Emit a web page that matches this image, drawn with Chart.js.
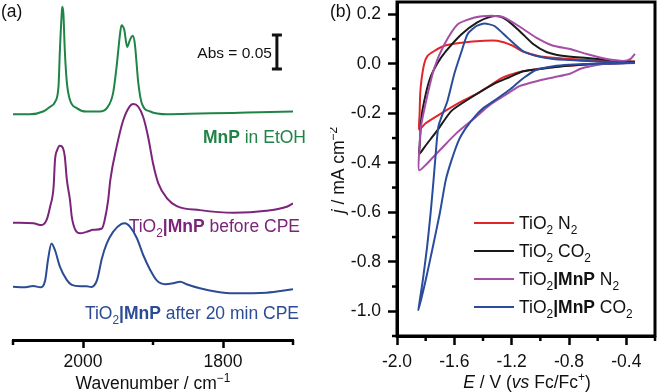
<!DOCTYPE html>
<html>
<head>
<meta charset="utf-8">
<script src="https://cdn.jsdelivr.net/npm/chart.js@4"></script>
<style>
  body { margin: 0; background: #fff; width: 658px; height: 392px; position: relative; overflow: hidden; }
  canvas { position: absolute; top: 0; }
  #ir { left: 0; }
  #cv { left: 330px; }
</style>
</head>
<body>
<canvas id="ir" width="330" height="392"></canvas>
<canvas id="cv" width="328" height="392"></canvas>
<script>
const FONT = "'Liberation Sans', Arial, sans-serif";

// (a) IR spectra: [wavenumber / cm-1, stacked absorbance]
const mnpEtoh = [[2100,0.332],[2076,0.332],[2057,0.336],[2047,0.343],[2040,0.350],[2035,0.373],[2033,0.426],
  [2030.4,0.480],[2029.6,0.490],[2028,0.480],[2026,0.426],[2023,0.378],[2018.6,0.353],[2009,0.341],[1995,0.336],
  [1976,0.336],[1966,0.341],[1957,0.363],[1952,0.402],[1947,0.451],[1945,0.463],[1941,0.456],[1937,0.431],
  [1933,0.441],[1929,0.4475],[1926,0.436],[1921,0.378],[1916,0.348],[1904,0.336],[1880,0.332],[1833,0.333],
  [1786,0.334],[1747,0.335],[1700,0.336]];
const beforeCpe = [[2100,0.1725],[2071,0.1716],[2059,0.169],[2052,0.1765],[2047,0.196],[2042,0.2254],[2040,0.2647],
  [2037,0.279],[2033,0.2857],[2028.6,0.282],[2026,0.2696],[2023,0.235],[2018.6,0.206],[2016,0.181],[2011,0.162],
  [2004,0.157],[1995,0.159],[1985,0.162],[1973,0.164],[1969,0.1765],[1964,0.206],[1961,0.235],[1952,0.284],
  [1942.4,0.3235],[1933,0.344],[1928,0.347],[1921,0.343],[1914,0.328],[1907,0.299],[1900,0.260],[1892.4,0.2304],
  [1880,0.2084],[1866,0.197],[1833,0.191],[1785,0.187],[1738,0.190],[1709,0.196],[1700,0.201]];
const afterCpe = [[2100,0.0784],[2085,0.0775],[2071,0.0794],[2061,0.0775],[2054,0.088],[2050,0.118],[2045,0.142],
  [2040,0.132],[2033,0.108],[2023,0.088],[2016,0.081],[2004,0.079],[1995,0.079],[1988,0.078],[1980,0.088],
  [1973,0.120],[1966,0.142],[1957,0.159],[1945,0.1706],[1940,0.1716],[1933,0.1666],[1923,0.1496],[1914,0.125],
  [1904,0.103],[1895,0.088],[1883,0.082],[1871,0.0834],[1861,0.0857],[1852,0.082],[1833,0.076],[1809,0.071],
  [1785,0.0687],[1738,0.0696],[1700,0.0746]];
const irLabels = ['MnP in EtOH', 'TiO2|MnP before CPE', 'TiO2|MnP after 20 min CPE'];
const irColors = ['#1f8446', '#7b2479', '#2b4b94'];
const irTicks = [2000, 1800];
const absBar = { x: 1723, base: 0.3985, size: 0.05 };

// (b) cyclic voltammograms: [E / V vs Fc/Fc+, j / mA cm-2]
const tio2N2 = [[-0.34,0.006],[-0.5,0.002],[-0.65,-0.002],[-0.8,-0.008],[-0.956,-0.016],[-1.12,-0.03],
  [-1.263,-0.056],[-1.425,-0.115],[-1.543,-0.15],[-1.705,-0.205],[-1.80,-0.24],[-1.845,-0.265],
  [-1.842,-0.2],[-1.838,-0.12],[-1.828,-0.06],[-1.81,0.0],[-1.787,0.032],[-1.74,0.052],[-1.67,0.073],
  [-1.55,0.085],[-1.39,0.093],[-1.30,0.093],[-1.2,0.075],[-1.12,0.05],[-1.0,0.03],[-0.85,0.022],
  [-0.675,0.016],[-0.5,0.012],[-0.34,0.01]];
const tio2CO2 = [[-0.34,0.005],[-0.6,0.0],[-0.85,-0.01],[-0.96,-0.018],[-1.12,-0.03],[-1.22,-0.055],
  [-1.32,-0.08],[-1.48,-0.135],[-1.62,-0.19],[-1.72,-0.27],[-1.80,-0.33],[-1.845,-0.365],
  [-1.842,-0.33],[-1.83,-0.22],[-1.81,-0.15],[-1.77,-0.06],[-1.72,0.0],[-1.66,0.05],[-1.55,0.12],
  [-1.44,0.168],[-1.35,0.19],[-1.29,0.192],[-1.235,0.178],[-1.145,0.133],[-1.05,0.08],[-0.957,0.048],
  [-0.85,0.033],[-0.675,0.024],[-0.445,0.012],[-0.34,0.008]];
const mnpN2 = [[-0.34,0.004],[-0.54,0.0],[-0.65,-0.01],[-0.72,-0.02],[-0.794,-0.04],[-0.91,-0.055],
  [-1.026,-0.07],[-1.145,-0.09],[-1.215,-0.115],[-1.35,-0.165],[-1.46,-0.22],[-1.585,-0.28],[-1.72,-0.36],
  [-1.845,-0.43],[-1.842,-0.33],[-1.834,-0.257],[-1.786,-0.122],[-1.739,-0.015],[-1.669,0.079],
  [-1.576,0.16],[-1.459,0.187],[-1.343,0.194],[-1.25,0.187],[-1.133,0.146],[-1.026,0.105],[-0.91,0.073],
  [-0.794,0.06],[-0.677,0.04],[-0.537,0.02],[-0.42,0.012],[-0.37,0.02],[-0.34,0.04]];
const mnpCO2 = [[-0.34,0.003],[-0.6,0.0],[-0.8,-0.004],[-0.91,-0.01],[-1.03,-0.025],[-1.1,-0.05],
  [-1.145,-0.07],[-1.215,-0.105],[-1.3,-0.14],[-1.4,-0.18],[-1.46,-0.215],[-1.52,-0.26],[-1.57,-0.31],
  [-1.62,-0.39],[-1.66,-0.47],[-1.70,-0.6],[-1.75,-0.74],[-1.80,-0.875],[-1.85,-0.995],
  [-1.82,-0.875],[-1.79,-0.74],[-1.765,-0.6],[-1.745,-0.47],[-1.728,-0.35],[-1.71,-0.25],
  [-1.648,-0.15],[-1.6,-0.04],[-1.55,0.05],[-1.508,0.12],[-1.446,0.153],[-1.39,0.163],[-1.32,0.153],
  [-1.228,0.105],[-1.123,0.052],[-1.026,0.032],[-0.91,0.02],[-0.675,0.012],[-0.34,0.004]];
const cvLabels = ['TiO2 N2', 'TiO2 CO2', 'TiO2|MnP N2', 'TiO2|MnP CO2'];
const cvColors = ['#e2252b', '#1a1a1a', '#a54ea6', '#2a4c9c'];

// draw text made of styled pieces: [text, style] with style '', 'b', 'i', 'sub', 'sup'
function rich(ctx, parts, x, y, size, color, align) {
  const fontFor = st => {
    const s = (st === 'sub' || st === 'sup') ? size * 0.68 : size;
    return (st === 'i' ? 'italic ' : '') + (st === 'b' ? 'bold ' : '') + s + 'px ' + FONT;
  };
  let total = 0;
  const widths = parts.map(([t, st]) => {
    ctx.font = fontFor(st);
    const w = ctx.measureText(t).width;
    total += w;
    return w;
  });
  let cx = align === 'right' ? x - total : align === 'center' ? x - total / 2 : x;
  ctx.fillStyle = color;
  ctx.textAlign = 'left';
  ctx.textBaseline = 'alphabetic';
  parts.forEach(([t, st], i) => {
    ctx.font = fontFor(st);
    const dy = st === 'sub' ? size * 0.28 : st === 'sup' ? -size * 0.42 : 0;
    ctx.fillText(t, cx, y + dy);
    cx += widths[i];
  });
}

function minorTicks(ctx, scale, isMinor, len, vertical) {
  ctx.save();
  ctx.strokeStyle = '#000';
  ctx.lineWidth = 2.5;
  scale.ticks.forEach(t => {
    if (!isMinor(t.value)) return;
    const p = scale.getPixelForValue(t.value);
    ctx.beginPath();
    if (vertical) { ctx.moveTo(scale.right, p); ctx.lineTo(scale.right - len, p); }
    else { ctx.moveTo(p, scale.top); ctx.lineTo(p, scale.top + len); }
    ctx.stroke();
  });
  ctx.restore();
}

// fixed axis sizes, no label overhang padding
const fixX = h => s => { s.height = h; s.paddingLeft = 0; s.paddingRight = 0; };
const fixY = w => s => { s.width = w; s.paddingTop = 0; s.paddingBottom = 0; };

const irDecor = {
  id: 'irDecor',
  afterDraw(chart) {
    const ctx = chart.ctx, xs = chart.scales.x, ys = chart.scales.y;
    minorTicks(ctx, xs, v => !irTicks.includes(v), 5, false);
    // scale bar
    const bx = xs.getPixelForValue(absBar.x);
    const y0 = ys.getPixelForValue(absBar.base), y1 = ys.getPixelForValue(absBar.base + absBar.size);
    ctx.save();
    ctx.strokeStyle = '#111';
    ctx.lineWidth = 3;
    ctx.beginPath();
    ctx.moveTo(bx, y0); ctx.lineTo(bx, y1);
    ctx.moveTo(bx - 5, y0); ctx.lineTo(bx + 5, y0);
    ctx.moveTo(bx - 5, y1); ctx.lineTo(bx + 5, y1);
    ctx.stroke();
    ctx.restore();
    rich(ctx, [['Abs = 0.05', '']], bx - 5, (y0 + y1) / 2 + 5.5, 15.5, '#111', 'right');
    // spectrum labels
    rich(ctx, [['MnP', 'b'], [' in EtOH', '']], 306, 143, 17.5, irColors[0], 'right');
    rich(ctx, [['TiO', ''], ['2', 'sub'], ['|MnP', 'b'], [' before CPE', '']], 300, 232, 17.5, irColors[1], 'right');
    rich(ctx, [['TiO', ''], ['2', 'sub'], ['|MnP', 'b'], [' after 20 min CPE', '']], 299, 319, 17.5, irColors[2], 'right');
    rich(ctx, [['Wavenumber / cm', ''], ['\u22121', 'sup']], 153, 389, 17.5, '#111', 'center');
    rich(ctx, [['(a)', '']], 1, 17, 17.5, '#111', 'left');
  }
};

new Chart(document.getElementById('ir'), {
  type: 'scatter',
  data: {
    datasets: [mnpEtoh, beforeCpe, afterCpe].map((d, i) => ({
      label: irLabels[i],
      data: d.map(p => ({ x: p[0], y: p[1] })),
      borderColor: irColors[i],
      borderWidth: 2,
      showLine: true,
      pointRadius: 0,
      cubicInterpolationMode: 'monotone'
    }))
  },
  options: {
    responsive: false,
    animation: false,
    devicePixelRatio: 1,
    layout: { padding: { left: 13, right: 37, top: 0, bottom: 0 } },
    plugins: { legend: { display: false }, tooltip: { enabled: false } },
    scales: {
      x: {
        type: 'linear', reverse: true, min: 1700, max: 2100,
        afterFit: fixX(52),
        border: { color: '#000', width: 3 },
        grid: {
          drawOnChartArea: false, tickLength: 8, tickWidth: 2.5,
          tickColor: c => (c.tick && irTicks.includes(c.tick.value)) ? '#000' : 'rgba(0,0,0,0)'
        },
        ticks: {
          stepSize: 100, padding: 4, color: '#111', maxRotation: 0, autoSkip: false,
          font: { family: FONT, size: 17.5 },
          callback: v => irTicks.includes(v) ? String(v) : ''
        }
      },
      y: { display: false, min: 0, max: 0.5 }
    }
  },
  plugins: [irDecor]
});

const cvDecor = {
  id: 'cvDecor',
  afterDraw(chart) {
    const ctx = chart.ctx, ca = chart.chartArea;
    minorTicks(ctx, chart.scales.x, v => Math.abs(Math.round(v * 10)) % 4 !== 0, 5, false);
    minorTicks(ctx, chart.scales.y, v => Math.abs(Math.round(v * 10)) % 2 !== 0, 5, true);
    ctx.save();
    ctx.strokeStyle = '#000';
    ctx.lineWidth = 3;
    ctx.strokeRect(ca.left, ca.top, ca.right - ca.left, ca.bottom - ca.top);
    ctx.restore();
    // legend
    const rows = [
      [['TiO', ''], ['2', 'sub'], [' N', ''], ['2', 'sub']],
      [['TiO', ''], ['2', 'sub'], [' CO', ''], ['2', 'sub']],
      [['TiO', ''], ['2', 'sub'], ['|MnP', 'b'], [' N', ''], ['2', 'sub']],
      [['TiO', ''], ['2', 'sub'], ['|MnP', 'b'], [' CO', ''], ['2', 'sub']]
    ];
    rows.forEach((r, i) => {
      const y = 223 + i * 28;
      ctx.save();
      ctx.strokeStyle = cvColors[i];
      ctx.lineWidth = 2;
      ctx.beginPath();
      ctx.moveTo(144, y); ctx.lineTo(184, y);
      ctx.stroke();
      ctx.restore();
      rich(ctx, r, 189, y + 6, 17.5, '#111', 'left');
    });
    rich(ctx, [['E', 'i'], [' / V (', ''], ['vs', 'i'], [' Fc/Fc', ''], ['+', 'sup'], [')', '']], 197, 388, 17.5, '#111', 'center');
    ctx.save();
    ctx.translate(14, 170);
    ctx.rotate(-Math.PI / 2);
    rich(ctx, [['j', 'i'], [' / mA cm', ''], ['\u22122', 'sup']], 0, 0, 17.5, '#111', 'center');
    ctx.restore();
    rich(ctx, [['(b)', '']], 0, 17, 17.5, '#111', 'left');
  }
};

new Chart(document.getElementById('cv'), {
  type: 'scatter',
  data: {
    datasets: [tio2N2, tio2CO2, mnpN2, mnpCO2].map((d, i) => ({
      label: cvLabels[i],
      data: d.map(p => ({ x: p[0], y: p[1] })),
      borderColor: cvColors[i],
      borderWidth: 2,
      showLine: true,
      pointRadius: 0,
      tension: 0.2,
      order: 3 - i
    }))
  },
  options: {
    responsive: false,
    animation: false,
    devicePixelRatio: 1,
    layout: { padding: { left: 0, right: 3, top: 2, bottom: 0 } },
    plugins: { legend: { display: false }, tooltip: { enabled: false } },
    scales: {
      x: {
        type: 'linear', min: -2.0, max: -0.2,
        afterFit: fixX(56),
        border: { color: '#000', width: 3 },
        grid: {
          drawOnChartArea: false, tickLength: 9, tickWidth: 2.5,
          tickColor: c => (c.tick && Math.abs(Math.round(c.tick.value * 10)) % 4 === 0) ? '#000' : 'rgba(0,0,0,0)'
        },
        ticks: {
          stepSize: 0.2, padding: 7, color: '#111', maxRotation: 0, autoSkip: false, includeBounds: false,
          font: { family: FONT, size: 17.5 },
          callback: v => Math.abs(Math.round(v * 10)) % 4 === 0 ? v.toFixed(1) : ''
        }
      },
      y: {
        type: 'linear', min: -1.1, max: 0.25,
        afterFit: fixY(67),
        border: { color: '#000', width: 3 },
        grid: {
          drawOnChartArea: false, tickLength: 9, tickWidth: 2.5,
          tickColor: c => (c.tick && Math.abs(Math.round(c.tick.value * 10)) % 2 === 0) ? '#000' : 'rgba(0,0,0,0)'
        },
        ticks: {
          stepSize: 0.1, padding: 7, color: '#111', autoSkip: false, includeBounds: false,
          font: { family: FONT, size: 17.5 },
          callback: v => Math.abs(Math.round(v * 10)) % 2 === 0 ? v.toFixed(1) : ''
        }
      }
    }
  },
  plugins: [cvDecor]
});
</script>
</body>
</html>
